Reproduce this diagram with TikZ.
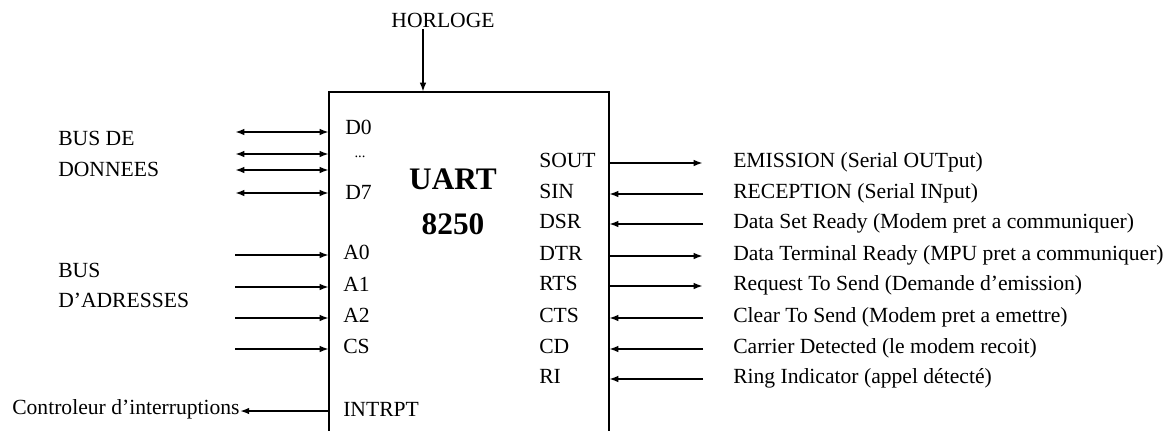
\documentclass[tikz,border=0pt]{standalone}
\usepackage{fontspec}
\setmainfont{Liberation Serif}
\usetikzlibrary{arrows.meta}
\begin{document}
\begin{tikzpicture}[x=0.75pt,y=-0.75pt,
  lbl/.style={inner sep=0pt, anchor=west, font=\fontsize{16.2}{18}\selectfont, text height=0.66em, text depth=0pt},
  big/.style={inner sep=0pt, font=\fontsize{23.5}{26}\selectfont\bfseries, text height=0.66em, text depth=0pt},
  wire/.style={line width=1.5pt},
  tipend/.style={-{Latex[length=7pt,width=5pt]}},
  tipboth/.style={{Latex[length=7pt,width=5pt]}-{Latex[length=7pt,width=5pt]}}]
\useasboundingbox (0,0) rectangle (1175,430);

% box (open at the bottom)
\coordinate (boxSW) at (329,432);
\coordinate (boxNW) at (329,92);
\coordinate (boxNE) at (609,92);
\coordinate (boxSE) at (609,432);
\draw[wire] (boxSW) -- (boxNW) -- (boxNE) -- (boxSE);

% clock
\node[lbl, anchor=center] (horloge) at (443,23) {HORLOGE};
\coordinate (hclk) at (423,29);
\draw[wire,tipend] (hclk) -- (hclk |- boxNW);

% title
\node[big] (uart) at (453,185) {UART};
\node[big] (num) at (453,230) {8250};

% data bus
\node[lbl] (busde) at (58,141) {BUS DE};
\node[lbl] (donnees) at (58,172) {DONNEES};
\node[lbl] (d0) at (345,130) {D0};
\node[inner sep=0pt, font=\fontsize{11}{12}\selectfont] (dots) at (360,157) {...};
\node[lbl] (d7) at (345,195) {D7};
\foreach \i/\y in {1/132,2/154,3/170,4/193}{
  \coordinate (dl\i) at (235,\y);
  \draw[wire,tipboth] (dl\i) -- (dl\i -| boxNW);
}

% address bus
\node[lbl] (bus) at (58,273) {BUS};
\node[lbl] (dadr) at (58,303) {D’ADRESSES};
\node[lbl] (a0) at (343,255) {A0};
\node[lbl] (a1) at (343,287) {A1};
\node[lbl] (a2) at (343,318) {A2};
\node[lbl] (cs) at (343,349) {CS};
\foreach \i/\y in {1/255,2/287,3/318,4/349}{
  \coordinate (al\i) at (235,\y);
  \draw[wire,tipend] (al\i) -- (al\i -| boxNW);
}

% interrupt
\node[lbl] (intrpt) at (343,412) {INTRPT};
\node[lbl] (ctrl) at (12,410) {Controleur d’interruptions};
\coordinate (irq) at (329,411);
\draw[wire,tipend] (irq) -- (irq -| ctrl.east);

% right side pins
\node[lbl] (sout) at (539,163) {SOUT};
\node[lbl] (sin) at (539,194) {SIN};
\node[lbl] (dsr) at (539,224) {DSR};
\node[lbl] (dtr) at (539,256) {DTR};
\node[lbl] (rts) at (539,286) {RTS};
\node[lbl] (cts) at (539,318) {CTS};
\node[lbl] (cd) at (539,349) {CD};
\node[lbl] (ri) at (539,379) {RI};

\node[lbl] (tsout) at (733,163) {EMISSION (Serial OUTput)};
\node[lbl] (tsin) at (733,194) {RECEPTION (Serial INput)};
\node[lbl] (tdsr) at (733,224) {Data Set Ready (Modem pret a communiquer)};
\node[lbl] (tdtr) at (733,256) {Data Terminal Ready (MPU pret a communiquer)};
\node[lbl] (trts) at (733,286) {Request To Send (Demande d’emission)};
\node[lbl] (tcts) at (733,318) {Clear To Send (Modem pret a emettre)};
\node[lbl] (tcd) at (733,349) {Carrier Detected (le modem recoit)};
\node[lbl] (tri) at (733,379) {Ring Indicator (appel détecté)};

\foreach \i/\y in {1/163,4/256,5/286}{
  \coordinate (ro\i) at (703,\y);
  \draw[wire,tipend] (ro\i -| boxNE) -- (ro\i);
}
\foreach \i/\y in {2/194,3/224,6/318,7/349,8/379}{
  \coordinate (ri\i) at (703,\y);
  \draw[wire,tipend] (ri\i) -- (ri\i -| boxNE);
}
\end{tikzpicture}
\end{document}
